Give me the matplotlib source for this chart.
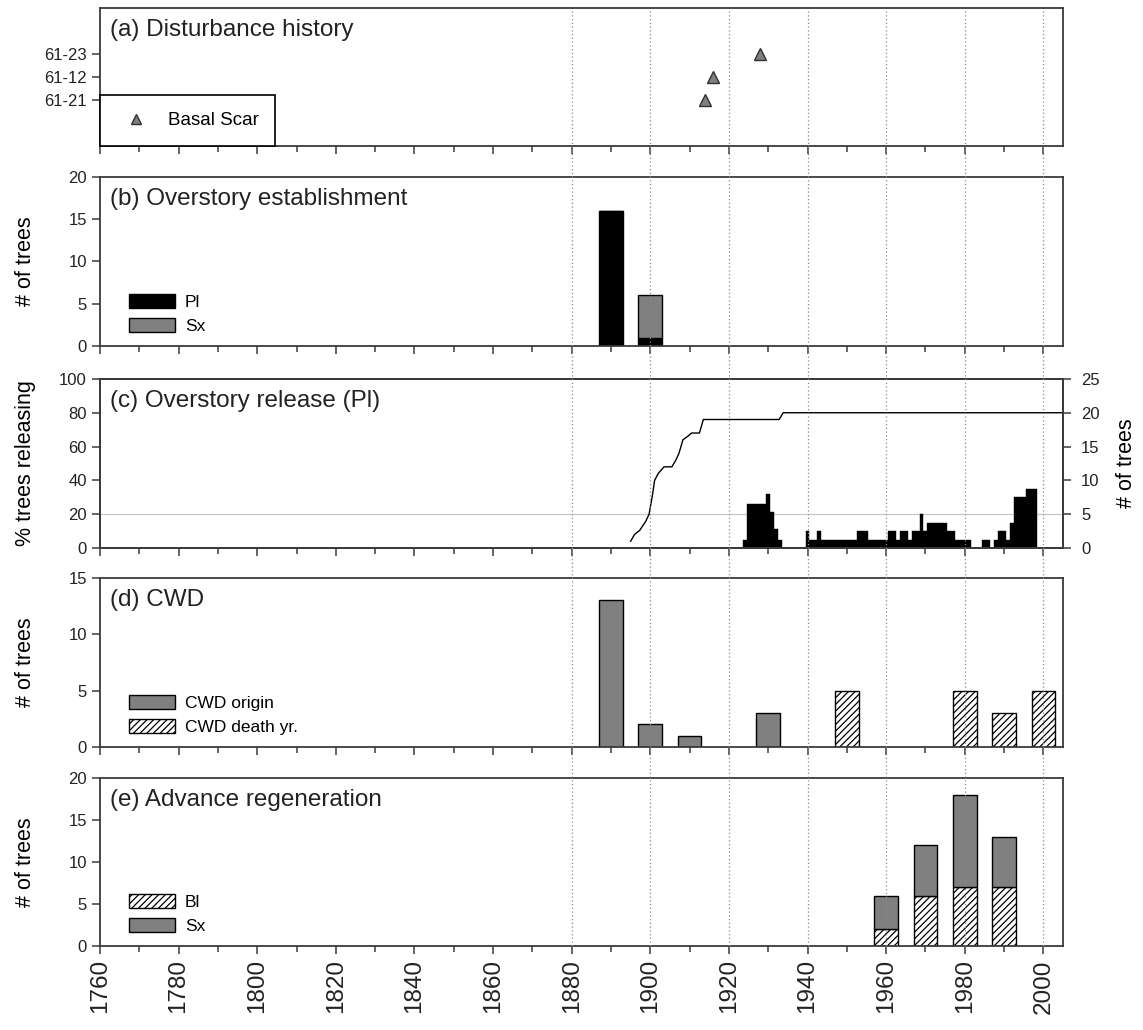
import matplotlib.pyplot as plt
from matplotlib.patches import Patch
from matplotlib.lines import Line2D
from matplotlib.ticker import MultipleLocator
from matplotlib import transforms

plt.rcParams['font.family'] = ['Liberation Sans', 'DejaVu Sans']
plt.rcParams['hatch.linewidth'] = 0.9

GREY = '#808080'
AXC = '#3a3a3a'

# (a) fire scars on sampled trees
scar_trees = ['61-21', '61-12', '61-23']
scar_years = [1914, 1916, 1928]

# (b) overstory establishment by decade
est_decades = [1890, 1900]
est_pl = [16, 1]
est_sx = [0, 5]

# (c) release events (% of trees) and sample depth (# of trees)
rel_years = list(range(1924, 1999))
rel_pct = [5, 26, 26, 26, 26, 26, 32, 21, 11, 5,
           0, 0, 0, 0, 0, 0, 10, 5, 5, 10,
           5, 5, 5, 5, 5, 5, 5, 5, 5, 10,
           10, 10, 5, 5, 5, 5, 5, 10, 10, 5,
           10, 10, 5, 10, 10, 20, 10, 15, 15, 15,
           15, 15, 10, 10, 5, 5, 5, 5, 0, 0,
           0, 5, 5, 0, 5, 10, 10, 5, 15, 30,
           30, 30, 35, 35, 35]
depth_years = [1895.0, 1896.0, 1897.3, 1898.8, 1899.7, 1900.6, 1901.1, 1902.0,
               1903.5, 1905.5, 1906.5, 1907.3, 1908.3, 1909.5, 1910.5, 1912.5,
               1913.5, 1932.8, 1933.8, 2005.0]
depth_trees = [1.0, 2.0, 2.6, 3.9, 5.0, 8.0, 10.0, 11.0,
               12.0, 12.0, 13.0, 14.0, 16.0, 16.5, 17.0, 17.0,
               19.0, 19.0, 20.0, 20.0]

# (d) coarse woody debris
cwd_origin_dec = [1890, 1900, 1910, 1930]
cwd_origin_n = [13, 2, 1, 3]
cwd_death_dec = [1950, 1980, 1990, 2000]
cwd_death_n = [5, 5, 3, 5]

# (e) advance regeneration
regen_dec = [1960, 1970, 1980, 1990]
regen_bl = [2, 6, 7, 7]
regen_sx = [4, 6, 11, 6]

fig = plt.figure(figsize=(11.43, 10.30), dpi=100)
L, W = 0.0875, 0.8425
ax_a = fig.add_axes([L, 0.8583, W, 0.1340])
ax_b = fig.add_axes([L, 0.6641, W, 0.1641])
ax_c = fig.add_axes([L, 0.4680, W, 0.1641])
ax_d = fig.add_axes([L, 0.2748, W, 0.1641])
ax_e = fig.add_axes([L, 0.0816, W, 0.1631])


def style(ax, title=None):
    ax.set_xlim(1760, 2005)
    ax.xaxis.set_major_locator(MultipleLocator(20))
    ax.xaxis.set_minor_locator(MultipleLocator(10))
    ax.tick_params(which='both', direction='out', color=AXC, width=1.1,
                   labelsize=12, labelcolor='#222222')
    ax.tick_params(which='major', length=6)
    ax.tick_params(which='minor', length=4)
    ax.tick_params(axis='x', labelbottom=False)
    for s in ax.spines.values():
        s.set_color(AXC)
        s.set_linewidth(1.3)
    if title:
        ax.annotate(title, xy=(0, 1), xycoords='axes fraction',
                    xytext=(7, -8), textcoords='offset points',
                    ha='left', va='top', fontsize=17.5, color='#222222')


def bar_legend(ax, handles):
    ax.legend(handles=handles, loc='lower left', bbox_to_anchor=(0.018, 0.0),
              frameon=False, fontsize=12.5, handlelength=2.6, handleheight=0.9,
              handletextpad=0.6, labelspacing=0.45, borderaxespad=0.3)


hatched = dict(facecolor='white', edgecolor='black', hatch='/////', linewidth=1)

# (a)
style(ax_a, '(a) Disturbance history')
ax_a.plot(scar_years, range(2, 2 + len(scar_trees)), ls='none', marker='^',
          ms=9, mfc=GREY, mec='#303030', mew=1)
ax_a.set_ylim(0, 6)
ax_a.set_yticks(range(2, 2 + len(scar_trees)))
ax_a.set_yticklabels(scar_trees)
leg = ax_a.legend(handles=[Line2D([], [], ls='none', marker='^', ms=7, mfc=GREY,
                                  mec='#303030', label='Basal Scar')],
                  loc='lower left', borderaxespad=0, fancybox=False,
                  edgecolor='black', fontsize=13.5, borderpad=0.9,
                  handlelength=2.0, handletextpad=0.7, framealpha=1)
leg.get_frame().set_linewidth(1.2)

# (b)
style(ax_b, '(b) Overstory establishment')
ax_b.bar(est_decades, est_pl, width=6, color='black', edgecolor='black')
ax_b.bar(est_decades, est_sx, bottom=est_pl, width=6, color=GREY,
         edgecolor='black')
ax_b.set_ylim(0, 20)
ax_b.set_yticks(range(0, 21, 5))
ax_b.set_ylabel('# of trees', fontsize=15.5)
bar_legend(ax_b, [Patch(facecolor='black', edgecolor='black', label='Pl'),
                  Patch(facecolor=GREY, edgecolor='black', label='Sx')])

# (c)
style(ax_c, '(c) Overstory release (Pl)')
ax_c.axhline(20, color='#c8c8c8', lw=0.9, zorder=0)
ax_c.bar(rel_years, rel_pct, width=1.0, color='black', edgecolor='black',
         linewidth=0.3)
ax_c.set_ylim(0, 100)
ax_c.set_yticks(range(0, 101, 20))
ax_c.set_ylabel('% trees releasing', fontsize=15.5)
ax_c2 = ax_c.twinx()
style(ax_c2)
ax_c2.tick_params(axis='y', pad=7)
ax_c2.plot(depth_years, depth_trees, color='black', lw=1.0)
ax_c2.set_ylim(0, 25)
ax_c2.set_yticks(range(0, 26, 5))
ax_c2.set_ylabel('# of trees', fontsize=15.5, labelpad=12)

# (d)
style(ax_d, '(d) CWD')
ax_d.bar(cwd_origin_dec, cwd_origin_n, width=6, color=GREY, edgecolor='black')
ax_d.bar(cwd_death_dec, cwd_death_n, width=6, **hatched)
ax_d.set_ylim(0, 15)
ax_d.set_yticks(range(0, 16, 5))
ax_d.set_ylabel('# of trees', fontsize=15.5)
bar_legend(ax_d, [Patch(facecolor=GREY, edgecolor='black', label='CWD origin'),
                  Patch(label='CWD death yr.', **hatched)])

# (e)
style(ax_e, '(e) Advance regeneration')
ax_e.bar(regen_dec, regen_bl, width=6, **hatched)
ax_e.bar(regen_dec, regen_sx, bottom=regen_bl, width=6, color=GREY,
         edgecolor='black')
ax_e.set_ylim(0, 20)
ax_e.set_yticks(range(0, 21, 5))
ax_e.set_ylabel('# of trees', fontsize=15.5)
ax_e.tick_params(axis='x', labelbottom=True, labelsize=17.5, labelrotation=90)
bar_legend(ax_e, [Patch(label='Bl', **hatched),
                  Patch(facecolor=GREY, edgecolor='black', label='Sx')])

for ax in (ax_b, ax_c, ax_d, ax_e):
    ax.yaxis.set_label_coords(-0.066, 0.5)

# dotted reference years running through all panels
trans = transforms.blended_transform_factory(ax_e.transData, fig.transFigure)
for yr in range(1880, 2001, 20):
    fig.add_artist(Line2D([yr, yr], [0.0816, 0.990], transform=trans,
                          color='#8a8a8a', ls=(0, (1, 2)), lw=0.9, zorder=5))

fig.savefig('out.png', dpi=100)
